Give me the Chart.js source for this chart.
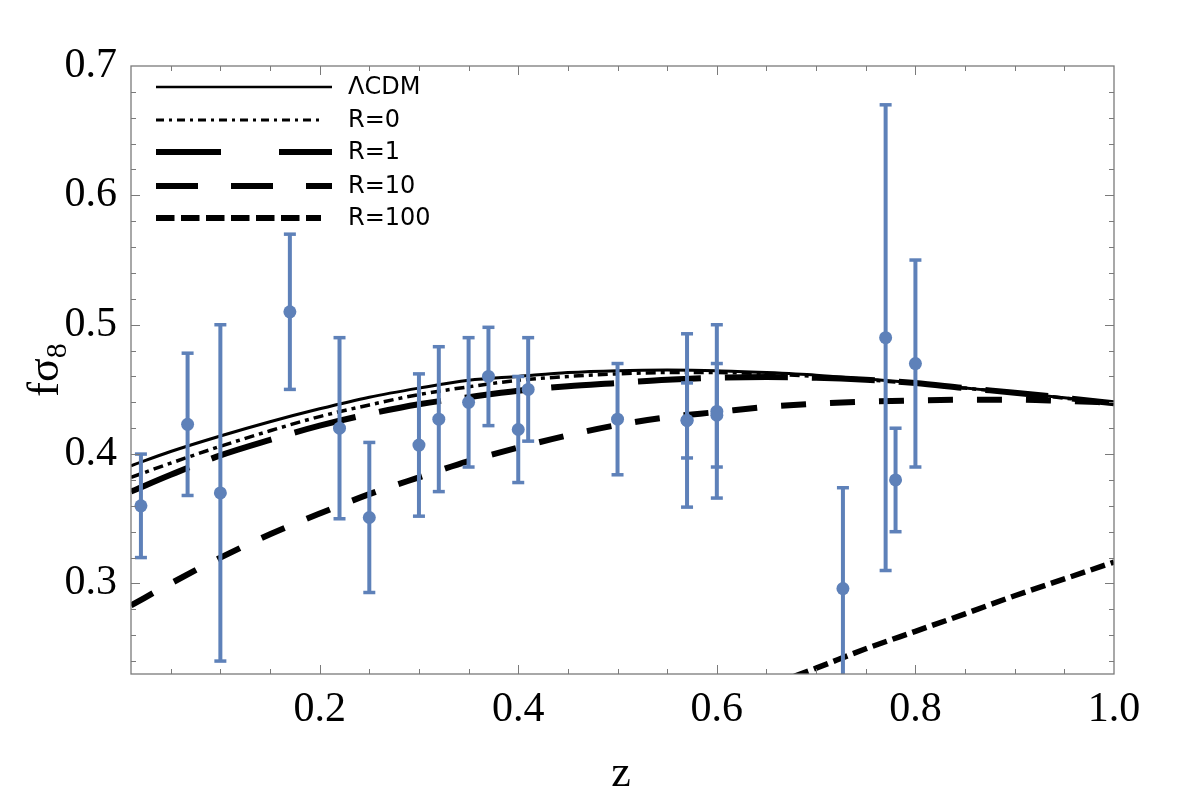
<!DOCTYPE html>
<html>
<head>
<meta charset="utf-8">
<script src="https://cdn.jsdelivr.net/npm/chart.js@4.4.1/dist/chart.umd.min.js"></script>
<style>
  html, body { margin: 0; padding: 0; background: #fff; }
  #wrap { width: 1182px; height: 800px; }
</style>
</head>
<body>
<div id="wrap"><canvas id="chart" width="1182" height="800"></canvas></div>
<script>
// model curves
const zGrid = [0.01, 0.05, 0.10, 0.15, 0.20, 0.25, 0.30, 0.35, 0.40, 0.45, 0.50,
               0.55, 0.60, 0.65, 0.70, 0.75, 0.80, 0.85, 0.90, 0.95, 1.00];
const lcdm = [0.391, 0.402, 0.414, 0.425, 0.435, 0.444, 0.451, 0.457, 0.460, 0.463, 0.4645,
              0.465, 0.4645, 0.463, 0.461, 0.458, 0.455, 0.451, 0.4475, 0.4435, 0.4393];
const r0   = [0.382, 0.393, 0.406, 0.418, 0.429, 0.438, 0.446, 0.452, 0.457, 0.460, 0.462,
              0.463, 0.463, 0.462, 0.460, 0.4575, 0.4545, 0.451, 0.4473, 0.4433, 0.4392];
const r1   = [0.371, 0.384, 0.399, 0.411, 0.422, 0.431, 0.4385, 0.444, 0.449, 0.4525, 0.455,
              0.4575, 0.459, 0.4595, 0.459, 0.4575, 0.455, 0.451, 0.4475, 0.4435, 0.4393];
const r10  = [0.283, 0.300, 0.320, 0.338, 0.354, 0.369, 0.382, 0.3945, 0.405, 0.4145, 0.4225,
              0.4285, 0.4325, 0.4365, 0.439, 0.4405, 0.4415, 0.442, 0.442, 0.441, 0.4398];
const zR100 = [0.60, 0.65, 0.70, 0.75, 0.80, 0.85, 0.90, 0.95, 1.00];
const r100  = [0.203, 0.220, 0.2345, 0.2495, 0.263, 0.2765, 0.2905, 0.3035, 0.3165];

// measurements with 1-sigma errors
const dataZ   = [0.02, 0.067, 0.10, 0.17, 0.22, 0.25, 0.30, 0.32, 0.35, 0.37, 0.40,
                 0.41, 0.50, 0.57, 0.57, 0.60, 0.60, 0.727, 0.77, 0.78, 0.80];
const dataFs8 = [0.360, 0.423, 0.370, 0.510, 0.420, 0.351, 0.407, 0.427, 0.440, 0.460, 0.419,
                 0.450, 0.427, 0.426, 0.426, 0.433, 0.430, 0.296, 0.490, 0.380, 0.470];
const dataErr = [0.040, 0.055, 0.130, 0.060, 0.070, 0.058, 0.055, 0.056, 0.050, 0.038, 0.041,
                 0.040, 0.043, 0.067, 0.029, 0.067, 0.040, 0.078, 0.180, 0.040, 0.080];

const xTicks = [0.2, 0.4, 0.6, 0.8, 1.0];
const xTickLabels = ["0.2", "0.4", "0.6", "0.8", "1.0"];
const yTicks = [0.3, 0.4, 0.5, 0.6, 0.7];
const yTickLabels = ["0.3", "0.4", "0.5", "0.6", "0.7"];
const legendLabels = ["\u039BCDM", "R=0", "R=1", "R=10", "R=100"];

const blue = "#5e81b9";
const serif = "'Liberation Serif', 'Times New Roman', serif";

const pts = (xs, ys) => xs.map((x, i) => ({ x, y: ys[i] }));

// error bars under the points
const errorBars = {
    id: "errorBars",
    beforeDatasetDraw(chart, args) {
        if (args.index !== 0) return;
        const { ctx, chartArea: a, scales: { x, y } } = chart;
        ctx.save();
        ctx.beginPath();
        ctx.rect(a.left, a.top, a.right - a.left, a.bottom - a.top);
        ctx.clip();
        ctx.strokeStyle = blue;
        dataZ.forEach((z, i) => {
            const px = x.getPixelForValue(z);
            const top = y.getPixelForValue(dataFs8[i] + dataErr[i]);
            const bot = y.getPixelForValue(dataFs8[i] - dataErr[i]);
            ctx.lineWidth = 4;
            ctx.beginPath(); ctx.moveTo(px, top); ctx.lineTo(px, bot); ctx.stroke();
            ctx.lineWidth = 3.5;
            [top, bot].forEach(py => {
                ctx.beginPath(); ctx.moveTo(px - 6, py); ctx.lineTo(px + 6, py); ctx.stroke();
            });
        });
        ctx.restore();
    }
};

// frame with inward ticks on all four sides
const frame = {
    id: "frame",
    afterDatasetsDraw(chart) {
        const { ctx, chartArea: a, scales: { x, y } } = chart;
        ctx.save();
        ctx.strokeStyle = "#7a7a7a";
        ctx.lineWidth = 1.3;
        ctx.strokeRect(a.left, a.top, a.right - a.left, a.bottom - a.top);
        ctx.lineWidth = 1;
        ctx.beginPath();
        for (let k = 1; k <= 19; k++) {
            const px = Math.round(x.getPixelForValue(k * 0.05)) + 0.5;
            const len = k % 4 === 0 ? 9 : 5;
            ctx.moveTo(px, a.bottom); ctx.lineTo(px, a.bottom - len);
            ctx.moveTo(px, a.top); ctx.lineTo(px, a.top + len);
        }
        for (let k = 12; k <= 34; k++) {
            const py = Math.round(y.getPixelForValue(k * 0.02)) + 0.5;
            const len = k % 5 === 0 ? 9 : 5;
            ctx.moveTo(a.left, py); ctx.lineTo(a.left + len, py);
            ctx.moveTo(a.right, py); ctx.lineTo(a.right - len, py);
        }
        ctx.stroke();
        ctx.restore();
    }
};

// legend inside the plot, axis titles
const legendStyles = [
    { dash: [], width: 2.6, end: 332 },
    { dash: [8, 5, 3, 5], width: 3, end: 323 },
    { dash: [65, 58], width: 6, end: 332 },
    { dash: [42, 33], width: 6, end: 332 },
    { dash: [18.5, 6.5], width: 6, end: 321 }
];
const legendRows = [87, 120, 152, 186, 218];

const decorations = {
    id: "decorations",
    afterDraw(chart) {
        const { ctx } = chart;
        ctx.save();
        legendLabels.forEach((label, i) => {
            const s = legendStyles[i];
            ctx.strokeStyle = "#000";
            ctx.lineWidth = s.width;
            ctx.lineCap = "butt";
            ctx.setLineDash(s.dash);
            ctx.beginPath();
            ctx.moveTo(156, legendRows[i]);
            ctx.lineTo(s.end, legendRows[i]);
            ctx.stroke();
            ctx.setLineDash([]);
            ctx.fillStyle = "#000";
            ctx.font = "24px 'DejaVu Sans'";
            ctx.textBaseline = "middle";
            ctx.textAlign = "left";
            ctx.fillText(label, 348, legendRows[i] + 1);
        });

        // y title: f sigma_8
        ctx.translate(58, 370);
        ctx.rotate(-Math.PI / 2);
        ctx.textBaseline = "alphabetic";
        ctx.font = "44px " + serif;
        const w1 = ctx.measureText("f\u03C3").width;
        ctx.font = "30px " + serif;
        const w2 = ctx.measureText("8").width;
        const start = -(w1 + w2) / 2;
        ctx.font = "44px " + serif;
        ctx.fillText("f\u03C3", start, 0);
        ctx.font = "30px " + serif;
        ctx.fillText("8", start + w1, 8);
        ctx.setTransform(1, 0, 0, 1, 0, 0);

        // x title
        ctx.font = "44px " + serif;
        ctx.textAlign = "center";
        ctx.fillText("z", 621, 786);
        ctx.restore();
    }
};

const curve = (label, xs, ys, width, dash) => ({
    label, data: pts(xs, ys), borderColor: "#000", borderWidth: width,
    borderDash: dash, borderCapStyle: "butt", pointRadius: 0,
    cubicInterpolationMode: "monotone", fill: false, clip: 0
});

new Chart(document.getElementById("chart").getContext("2d"), {
    type: "line",
    data: {
        datasets: [
            { label: "data", type: "scatter", data: pts(dataZ, dataFs8), pointRadius: 6.5,
              backgroundColor: blue, borderWidth: 0, clip: 0 },
            curve(legendLabels[0], zGrid, lcdm, 3, []),
            curve(legendLabels[1], zGrid, r0, 3.5, [10, 5, 4, 5]),
            curve(legendLabels[2], zGrid, r1, 6, [63, 24]),
            curve(legendLabels[3], zGrid, r10, 6, [25, 24]),
            curve(legendLabels[4], zR100, r100, 5.5, [15, 6])
        ]
    },
    options: {
        responsive: false,
        animation: false,
        devicePixelRatio: 1,
        events: [],
        layout: { padding: { top: 66, right: 68, left: 0, bottom: 0 } },
        plugins: { legend: { display: false }, tooltip: { enabled: false } },
        scales: {
            x: {
                type: "linear", min: 0.01, max: 1.0,
                grid: { display: false }, border: { display: false },
                afterBuildTicks: s => { s.ticks = xTicks.map(v => ({ value: v })); },
                afterFit: s => { s.height = 126; },
                ticks: { color: "#000", font: { family: serif, size: 42 }, padding: 3,
                         maxRotation: 0, autoSkip: false, callback: (v, i) => xTickLabels[i] }
            },
            y: {
                type: "linear", min: 0.23, max: 0.70,
                grid: { display: false }, border: { display: false },
                afterBuildTicks: s => { s.ticks = yTicks.map(v => ({ value: v })); },
                afterFit: s => { s.width = 131; },
                ticks: { color: "#000", font: { family: serif, size: 42 }, padding: 6,
                         autoSkip: false, callback: (v, i) => yTickLabels[i] }
            }
        }
    },
    plugins: [errorBars, frame, decorations]
});
</script>
</body>
</html>
